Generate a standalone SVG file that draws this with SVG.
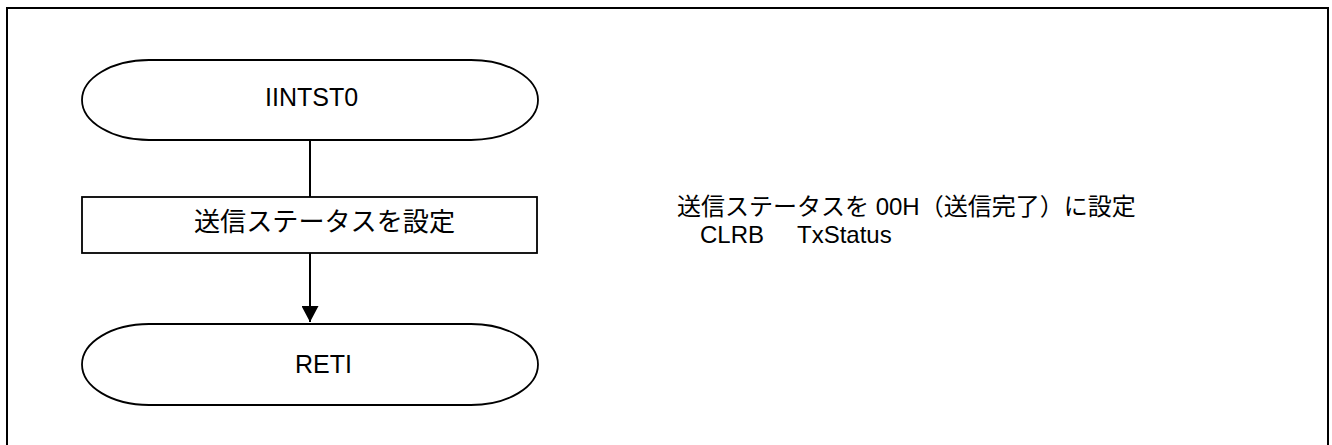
<svg xmlns="http://www.w3.org/2000/svg" width="1332" height="445" viewBox="0 0 1332 445">
<style>
.shape{fill:#fff;stroke:#000;stroke-width:1.8}
.lbl{font-family:"Liberation Sans","Noto Sans CJK JP",sans-serif;font-size:25px;fill:#000}
.note{font-family:"Liberation Sans","Noto Sans CJK JP",sans-serif;font-size:24px;fill:#000}
.conn{stroke:#000;stroke-width:2;fill:none}
</style>
<defs>
<marker id="arr" viewBox="0 0 16 17" refX="16" refY="8.5" markerWidth="16" markerHeight="17" markerUnits="userSpaceOnUse" orient="auto">
<path d="M0,0 L16,8.5 L0,17 Z" fill="#000"/>
</marker>
</defs>
<rect x="0" y="0" width="1332" height="445" fill="#fff"/>
<rect x="7" y="8" width="1321" height="460" fill="none" stroke="#000" stroke-width="2"/>
<g id="connectors">
<line class="conn" x1="310" y1="140" x2="310" y2="197"/>
<line class="conn" x1="310" y1="253" x2="310" y2="322" marker-end="url(#arr)"/>
</g>
<g id="start">
<path class="shape" d="M149,60 H471 A67,40 0 0 1 471,140 H149 A67,40 0 0 1 149,60 Z"/>
<text class="lbl" x="265" y="106">IINTST0</text>
</g>
<g id="process">
<rect class="shape" x="82" y="197" width="455" height="56"/>
<text class="lbl" x="194" y="231" style="font-size:26px" textLength="261" lengthAdjust="spacingAndGlyphs">送信ステータスを設定</text>
</g>
<g id="end">
<path class="shape" d="M149,324 H471 A67,40.5 0 0 1 471,405 H149 A67,40.5 0 0 1 149,324 Z"/>
<text class="lbl" x="295" y="373">RETI</text>
</g>
<g id="note">
<text class="note" x="677" y="215">送信ステータスを 00H（送信完了）に設定</text>
<text class="note" x="700" y="243">CLRB</text>
<text class="note" x="797" y="243">TxStatus</text>
</g>
</svg>
